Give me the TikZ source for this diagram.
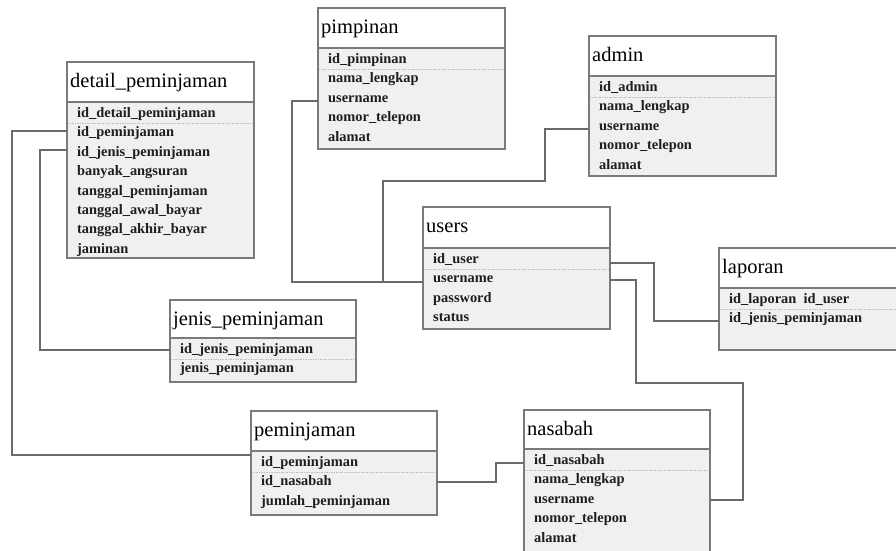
\documentclass[tikz,border=0pt]{standalone}
\usepackage{fontspec}
\setmainfont{Liberation Serif}
\definecolor{rowfill}{HTML}{F0F0F0}
\definecolor{bordc}{HTML}{7A7A7A}
\definecolor{connc}{HTML}{6A6A6A}
\definecolor{sepc}{HTML}{BDBDBD}
\definecolor{txtc}{HTML}{1E1E1E}
\tikzset{
  boxline/.style={draw=bordc,line width=1.4pt},
  sepline/.style={draw=sepc,line width=0.9pt,dash pattern=on 1.5pt off 1pt},
  conn/.style={draw=connc,line width=1.3pt},
  titletxt/.style={anchor=base west,inner sep=0pt,text=black,font=\fontsize{20.5}{24}\selectfont},
  rowtxt/.style={anchor=base west,inner sep=0pt,text=txtc,font=\fontsize{14.4}{16}\selectfont\bfseries},
}
\newcommand\erbox[8]{%
  \node[draw=none,inner sep=0pt,outer sep=0pt,minimum width={(#4-#2)*1pt},minimum height={(#5-#3)*1pt},anchor=north west] (#1) at (#2,#3) {};
  \fill[white] (#1.north west) rectangle ({#4},{#6});
  \fill[rowfill] ({#2},{#6}) rectangle (#1.south east);
  \draw[sepline] ({#2},{#6+21.5}) -- ({#4},{#6+21.5});
  \draw[boxline] ({#2},{#6}) -- ({#4},{#6});
  \draw[boxline] (#1.north west) rectangle (#1.south east);
  \node[titletxt] (#1-t) at ({#2+3},{#3+25}) {#7};
  \foreach \r [count=\i] in {#8} \node[rowtxt] (#1-\i) at ({#2+10},{#6+15.5+(\i-1)*19.4}) {\r};
}
\begin{document}
\begin{tikzpicture}[x=1pt,y=-1pt]
\useasboundingbox[fill=white] (0,0) rectangle (896,550);

\erbox{dp}{67}{62}{254}{258}{102}{detail\_peminjaman}{id\_detail\_peminjaman,id\_peminjaman,id\_jenis\_peminjaman,banyak\_angsuran,tanggal\_peminjaman,tanggal\_awal\_bayar,tanggal\_akhir\_bayar,jaminan}
\erbox{pp}{318}{8}{505}{149}{48}{pimpinan}{id\_pimpinan,nama\_lengkap,username,nomor\_telepon,alamat}
\erbox{ad}{589}{36}{776}{176}{76}{admin}{id\_admin,nama\_lengkap,username,nomor\_telepon,alamat}
\erbox{us}{423}{207}{610}{329}{248}{users}{id\_user,username,password,status}
\erbox{lp}{719}{248}{902}{350}{288}{laporan}{id\_laporan\ \ id\_user,id\_jenis\_peminjaman}
\erbox{jp}{170}{300}{356}{382}{338}{jenis\_peminjaman}{id\_jenis\_peminjaman,jenis\_peminjaman}
\erbox{pm}{251}{411}{437}{515}{451}{peminjaman}{id\_peminjaman,id\_nasabah,jumlah\_peminjaman}
\erbox{ns}{524}{410}{710}{562}{449}{nasabah}{id\_nasabah,nama\_lengkap,username,nomor\_telepon,alamat}

% connectors
\draw[conn] ([yshift=-69pt]dp.north west) -| (12,455) -- ([yshift=-44pt]pm.north west);
\draw[conn] ([yshift=-88pt]dp.north west) -| (40,350) -- ([yshift=-50pt]jp.north west);
\draw[conn] ([yshift=-93pt]pp.north west) -| (292,282) -- ([yshift=-75pt]us.north west);
\draw[conn] ([yshift=-93pt]ad.north west) -| (545,181) -| (383,282) -- ([yshift=-75pt]us.north west);
\draw[conn] ([yshift=-56pt]us.north east) -| (654,321) -- ([yshift=-73pt]lp.north west);
\draw[conn] ([yshift=-73pt]us.north east) -| (636,383) -| (743,500) -- ([yshift=-90pt]ns.north east);
\draw[conn] ([yshift=-71pt]pm.north east) -| (496,463) -- ([yshift=-53pt]ns.north west);
\end{tikzpicture}
\end{document}
